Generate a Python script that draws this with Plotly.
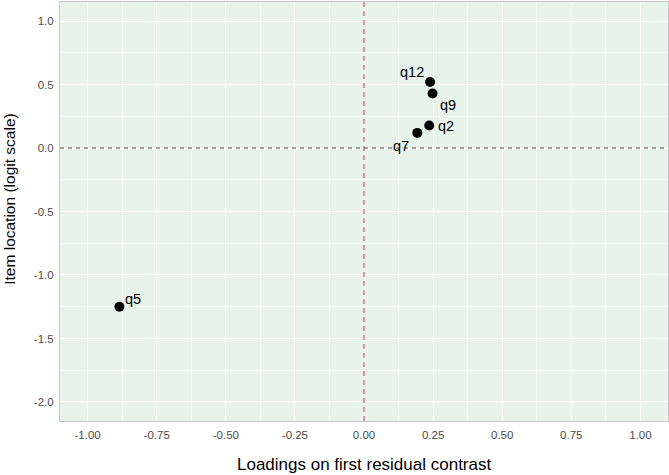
import plotly.graph_objects as go

items = ["q12", "q9", "q2", "q7", "q5"]
loadings = [0.239, 0.248, 0.236, 0.193, -0.885]
locations = [0.520, 0.429, 0.177, 0.119, -1.250]
x_ticks = [-1.0, -0.75, -0.5, -0.25, 0.0, 0.25, 0.5, 0.75, 1.0]
y_ticks = [-2.0, -1.5, -1.0, -0.5, 0.0, 0.5, 1.0]
label_shift = {"q12": (-18, 10), "q9": (15, -11), "q2": (17, 0), "q7": (-16, -13), "q5": (14, 8)}

font = "Liberation Sans, Arial, sans-serif"
fig = go.Figure()
fig.add_trace(go.Scatter(
    x=loadings, y=locations, mode="markers",
    marker=dict(color="black", size=10), hoverinfo="skip", showlegend=False))

for it, xv, yv in zip(items, loadings, locations):
    dx, dy = label_shift[it]
    fig.add_annotation(x=xv, y=yv, text=it, showarrow=False, xshift=dx, yshift=dy,
                       font=dict(family=font, size=14.5, color="black"))

fig.add_shape(type="line", x0=0, x1=0, y0=0, y1=1, xref="x", yref="paper",
              line=dict(color="#E8537A", width=1.3, dash="5px,4px"))
fig.add_shape(type="line", x0=0, x1=1, y0=0, y1=0, xref="paper", yref="y",
              line=dict(color="#4a4a4a", width=1, dash="4px,4px"))

# axis titles
fig.add_annotation(x=0.5, y=-0.104, xref="paper", yref="paper", showarrow=False,
                   text="Loadings on first residual contrast", xanchor="center", yanchor="middle",
                   font=dict(family=font, size=17, color="black"))
fig.add_annotation(x=0, y=0.528, xref="paper", yref="paper", showarrow=False,
                   text="Item location (logit scale)", textangle=-90, xshift=-50,
                   xanchor="center", yanchor="middle",
                   font=dict(family=font, size=15.5, color="black"))

axis_common = dict(
    showgrid=True, gridcolor="white", gridwidth=1.1, zeroline=False,
    showline=True, linecolor="#c8c8c8", linewidth=1, mirror=True,
    ticks="outside", ticklen=3, tickcolor="rgba(0,0,0,0)",
    tickfont=dict(family=font, size=11.5, color="#4d4d4d"),
    minor=dict(showgrid=True, gridcolor="#f6fbf8", gridwidth=0.6),
)
fig.update_xaxes(range=[-1.1, 1.1], tickvals=x_ticks,
                 ticktext=[f"{v:.2f}" for v in x_ticks],
                 minor_dtick=0.125, minor_tick0=0, **axis_common)
fig.update_yaxes(range=[-2.15, 1.15], tickvals=y_ticks,
                 ticktext=[f"{v:.1f}" for v in y_ticks],
                 minor_dtick=0.25, minor_tick0=0, **axis_common)
fig.update_layout(
    width=669, height=475,
    margin=dict(l=60, r=1, t=2, b=54),
    plot_bgcolor="#e8f3ec", paper_bgcolor="white",
    font=dict(family=font),
)
fig.write_html("out.html")
